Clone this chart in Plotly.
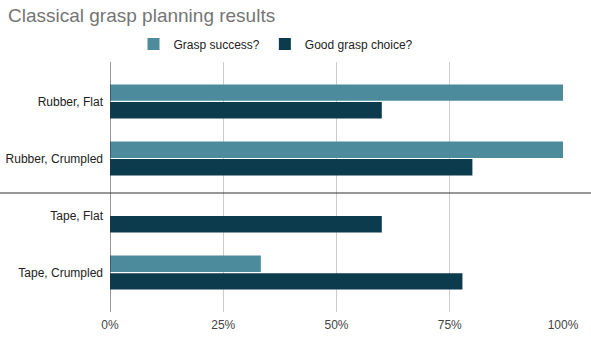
import plotly.graph_objects as go

categories = ["Rubber, Flat", "Rubber, Crumpled", "Tape, Flat", "Tape, Crumpled"]
grasp_success = [1.0, 1.0, 0.0, 0.333]
good_choice = [0.60, 0.80, 0.60, 0.778]
x_ticks = [0, 0.25, 0.5, 0.75, 1.0]
x_tick_labels = ["0%", "25%", "50%", "75%", "100%"]

LIGHT = "#4b8b9c"
DARK = "#0c3b4e"
FONT = "Liberation Sans, Arial, sans-serif"

fig = go.Figure()
fig.add_trace(go.Bar(y=categories, x=grasp_success, orientation="h",
                     name="Grasp success?", marker=dict(color=LIGHT, line=dict(width=0))))
fig.add_trace(go.Bar(y=categories, x=good_choice, orientation="h",
                     name="Good grasp choice?", marker=dict(color=DARK, line=dict(width=0))))

W, H = 591, 341
ml, mr, mt, mb = 110, 28, 62, 29
pw = W - ml - mr
ph = H - mt - mb

fig.update_layout(
    width=W, height=H,
    margin=dict(l=ml, r=mr, t=mt, b=mb, autoexpand=False),
    paper_bgcolor="white", plot_bgcolor="white",
    font=dict(family=FONT, size=12, color="#222222"),
    title=dict(text="Classical grasp planning results", x=8 / W, xanchor="left",
               y=1 - 15 / H, yanchor="middle",
               font=dict(family=FONT, size=19, color="#757575")),
    barmode="group", bargap=0.386, bargroupgap=0.06,
    showlegend=True,
    legend=dict(orientation="h", x=(276 - ml) / pw, xanchor="center",
                y=1 + (mt - 44) / ph, yanchor="middle",
                font=dict(family=FONT, size=12, color="#222222"),
                itemwidth=30, traceorder="normal", bgcolor="rgba(0,0,0,0)"),
    xaxis=dict(range=[0, 1.0], tickvals=x_ticks, ticktext=x_tick_labels,
               showgrid=True, gridcolor="#cccccc", gridwidth=1,
               zeroline=False, showline=False, ticks="", automargin=False,
               ticklabelstandoff=4,
               tickfont=dict(family=FONT, size=12, color="#444444"),
               fixedrange=True),
    yaxis=dict(type="category", categoryorder="array", categoryarray=categories,
               range=[3.69, -0.69], showgrid=False, zeroline=False,
               showline=False, ticks="", ticklabelstandoff=6, automargin=False,
               tickfont=dict(family=FONT, size=12, color="#222222")),
)

# x=0 baseline (vertical axis line)
fig.add_shape(type="line", xref="x", yref="paper", x0=0, x1=0, y0=0, y1=1,
              line=dict(color="#333333", width=1))
# horizontal separator across the whole chart
fig.add_shape(type="line", xref="paper", yref="paper",
              x0=-ml / pw, x1=(W - ml) / pw,
              y0=(H - mb - 193) / ph, y1=(H - mb - 193) / ph,
              line=dict(color="#333333", width=1))

fig.write_html("out.html", config={"displayModeBar": False},
               post_script="document.body.style.margin='0';")
